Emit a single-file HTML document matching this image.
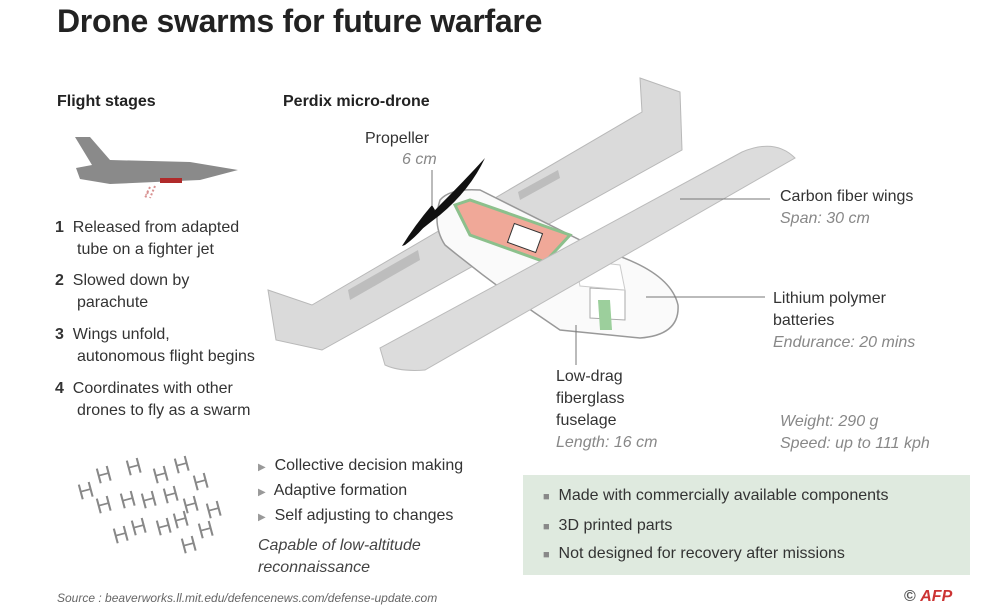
<!DOCTYPE html>
<html><head><meta charset="utf-8"><style>
body{margin:0;width:1000px;height:612px;background:#fff;font-family:"Liberation Sans",sans-serif;color:#333;position:relative;overflow:hidden}
.t{position:absolute;white-space:nowrap}
.b{font-weight:bold;color:#222}
.i{font-style:italic;color:#888}
.s{font-size:16px;line-height:22px}
</style></head><body>
<div class="t b" style="left:57px;top:3px;font-size:32px;letter-spacing:-0.3px">Drone swarms for future warfare</div>
<div class="t b" style="left:57px;top:93px;font-size:16px">Flight stages</div>
<div class="t b" style="left:283px;top:93px;font-size:16px">Perdix micro-drone</div>

<svg style="position:absolute;left:0;top:0" width="1000" height="612">
 <!-- jet -->
 <path d="M75 137 L90 137 L110 160 L190 162 L238 170 L200 180 L110 184 L80 179 L76 168 L92 165 Z" fill="#8a8a8a"/>
 <rect x="160" y="178" width="22" height="5" fill="#b02a2a"/>
 <path d="M150 187 l-4 8 M155 186 l-5 12 M148 192 l-3 6" stroke="#d89090" stroke-width="2" fill="none" stroke-dasharray="2 2"/>
 <!-- back wing -->
 <path d="M268 290 L312 305 L642 112 L640 78 L680 92 L682 150 L322 350 L276 340 Z" fill="#dadada" stroke="#b8b8b8"/>
 <path d="M350 300 L420 260 L418 250 L348 290 Z M520 200 L560 178 L558 170 L518 192 Z" fill="#bdbdbd"/>
 <!-- fuselage -->
 <path d="M440 200 Q450 188 480 190 L600 250 Q670 270 678 305 Q680 335 640 338 L560 330 Q500 290 445 245 Q432 225 440 200 Z" fill="#fafafa" stroke="#999" stroke-width="1.5"/>
 <path d="M455 205 L470 200 L570 235 L545 262 L470 235 Z" fill="#f0a898" stroke="#8cc08c" stroke-width="3"/>
 <rect x="510" y="228" width="30" height="20" fill="#fff" stroke="#333" transform="rotate(20 525 238)"/>
 <path d="M590 288 L625 290 L625 320 L590 318 Z" fill="#fff" stroke="#aaa"/>
 <path d="M598 300 L610 300 L612 330 L600 330 Z" fill="#9ccf9c"/>
 <path d="M575 260 L620 265 L625 290 L580 286 Z" fill="#fff" stroke="#ccc"/>
 <!-- propeller -->
 <path d="M485 158 Q470 190 440 215 Q420 230 402 246 Q420 225 440 205 Q465 180 485 158 Z" fill="#111"/>
 <path d="M435 210 Q425 230 405 245 L402 246 Q415 225 432 205 Z" fill="#111"/>
 <!-- front wing -->
 <path d="M380 348 L742 152 Q775 138 795 158 L425 370 Q400 372 385 365 Z" fill="#dcdcdc" stroke="#bbb"/>
 <!-- leader lines -->
 <g stroke="#777" stroke-width="1" fill="none">
  <line x1="432" y1="170" x2="432" y2="205"/>
  <line x1="680" y1="199" x2="770" y2="199"/>
  <line x1="646" y1="297" x2="765" y2="297"/>
  <line x1="576" y1="325" x2="576" y2="365"/>
 </g>
 <!-- swarm -->
 <g font-family="Liberation Sans" font-size="22" fill="#888">
  <text x="80" y="500" transform="rotate(-15 80 500)">H</text><text x="98" y="484" transform="rotate(-15 98 484)">H</text><text x="128" y="476" transform="rotate(-15 128 476)">H</text><text x="155" y="484" transform="rotate(-15 155 484)">H</text><text x="176" y="474" transform="rotate(-15 176 474)">H</text><text x="195" y="491" transform="rotate(-15 195 491)">H</text>
  <text x="98" y="514" transform="rotate(-15 98 514)">H</text><text x="122" y="509" transform="rotate(-15 122 509)">H</text><text x="143" y="509" transform="rotate(-15 143 509)">H</text><text x="165" y="504" transform="rotate(-15 165 504)">H</text><text x="185" y="514" transform="rotate(-15 185 514)">H</text><text x="208" y="519" transform="rotate(-15 208 519)">H</text>
  <text x="115" y="544" transform="rotate(-15 115 544)">H</text><text x="133" y="536" transform="rotate(-15 133 536)">H</text><text x="158" y="536" transform="rotate(-15 158 536)">H</text><text x="175" y="529" transform="rotate(-15 175 529)">H</text><text x="183" y="554" transform="rotate(-15 183 554)">H</text><text x="200" y="539" transform="rotate(-15 200 539)">H</text>
 </g>
</svg>

<div class="t s" style="left:55px;top:217px"><b>1</b>&nbsp; Released from adapted</div>
<div class="t s" style="left:77px;top:239px">tube on a fighter jet</div>
<div class="t s" style="left:55px;top:270px"><b>2</b>&nbsp; Slowed down by</div>
<div class="t s" style="left:77px;top:292px">parachute</div>
<div class="t s" style="left:55px;top:324px"><b>3</b>&nbsp; Wings unfold,</div>
<div class="t s" style="left:77px;top:346px">autonomous flight begins</div>
<div class="t s" style="left:55px;top:378px"><b>4</b>&nbsp; Coordinates with other</div>
<div class="t s" style="left:77px;top:400px">drones to fly as a swarm</div>

<div class="t s" style="left:365px;top:128px">Propeller</div>
<div class="t s i" style="left:402px;top:149px">6 cm</div>
<div class="t s" style="left:780px;top:186px">Carbon fiber wings</div>
<div class="t s i" style="left:780px;top:208px">Span: 30 cm</div>
<div class="t s" style="left:773px;top:288px">Lithium polymer</div>
<div class="t s" style="left:773px;top:310px">batteries</div>
<div class="t s i" style="left:773px;top:332px">Endurance: 20 mins</div>
<div class="t s" style="left:556px;top:366px">Low-drag</div>
<div class="t s" style="left:556px;top:388px">fiberglass</div>
<div class="t s" style="left:556px;top:410px">fuselage</div>
<div class="t s i" style="left:556px;top:432px">Length: 16 cm</div>
<div class="t s i" style="left:780px;top:411px">Weight: 290 g</div>
<div class="t s i" style="left:780px;top:433px">Speed: up to 111 kph</div>

<div class="t s" style="left:258px;top:455px"><span style="color:#999;font-size:10px">▶</span>&nbsp; Collective decision making</div>
<div class="t s" style="left:258px;top:480px"><span style="color:#999;font-size:10px">▶</span>&nbsp; Adaptive formation</div>
<div class="t s" style="left:258px;top:505px"><span style="color:#999;font-size:10px">▶</span>&nbsp; Self adjusting to changes</div>
<div class="t s" style="left:258px;top:535px;font-style:italic;color:#444">Capable of low-altitude</div>
<div class="t s" style="left:258px;top:557px;font-style:italic;color:#444">reconnaissance</div>

<div style="position:absolute;left:523px;top:475px;width:447px;height:100px;background:#dfeadf"></div>
<div class="t s" style="left:543px;top:485px"><span style="color:#888;font-size:11px">■</span>&nbsp; Made with commercially available components</div>
<div class="t s" style="left:543px;top:515px"><span style="color:#888;font-size:11px">■</span>&nbsp; 3D printed parts</div>
<div class="t s" style="left:543px;top:543px"><span style="color:#888;font-size:11px">■</span>&nbsp; Not designed for recovery after missions</div>

<div class="t i" style="left:57px;top:591px;font-size:12px;color:#666">Source : beaverworks.ll.mit.edu/defencenews.com/defense-update.com</div>
<div class="t" style="left:904px;top:588px;font-size:16px;color:#555;font-weight:bold">© <span style="color:#c33;font-style:italic">AFP</span></div>
</body></html>
